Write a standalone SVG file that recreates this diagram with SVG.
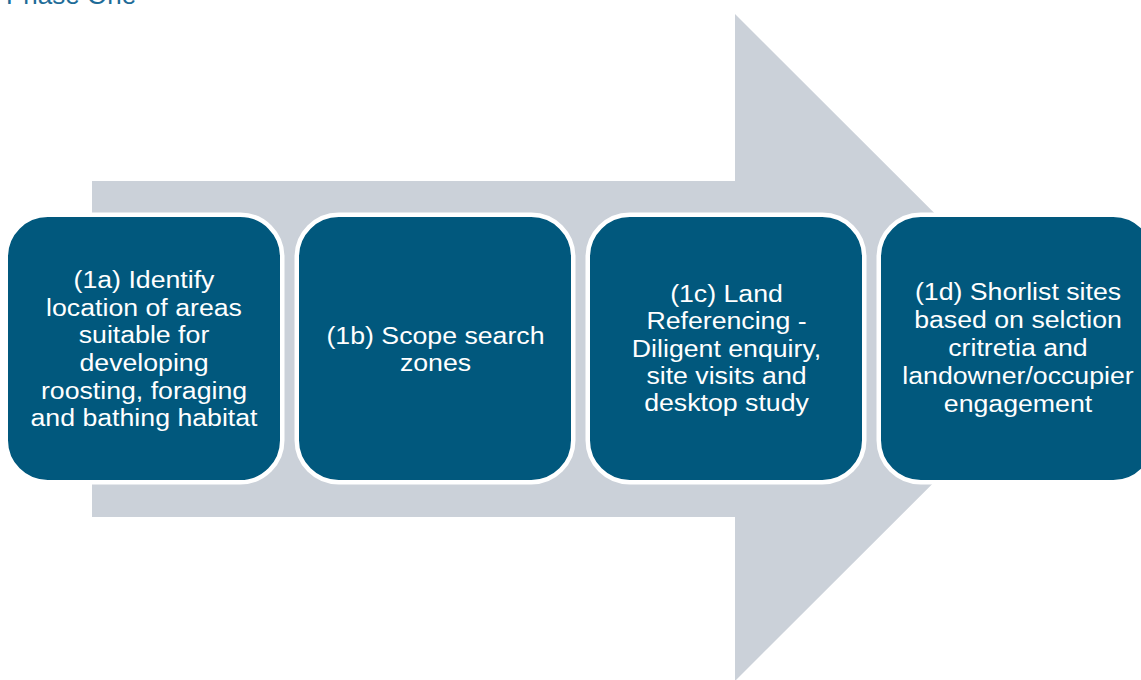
<svg xmlns="http://www.w3.org/2000/svg" width="1141" height="680" viewBox="0 0 1141 680">
<style>
.box{fill:#01587D;stroke:#ffffff;stroke-width:4.5}
.lbl{font-family:"Liberation Sans",Arial,sans-serif;font-size:24.5px;fill:#ffffff;text-anchor:middle}
.title{font-family:"Liberation Sans",Arial,sans-serif;font-size:26px;fill:#1E6C98}
</style>
<rect width="1141" height="680" fill="#ffffff"/>
<text class="title" x="6" y="4">Phase One</text>
<g id="connectors">
<path d="M92,181 H735 V14 L1069,347.5 L735,681 V517 H92 Z" fill="#CBD1D9"/>
</g>
<g id="node-1a">
<rect class="box" x="5.75" y="214.75" width="276.5" height="267.5" rx="42"/>
<text class="lbl" transform="translate(144 0) scale(1.09 1)"><tspan x="0" y="288">(1a) Identify</tspan><tspan x="0" y="315.7">location of areas</tspan><tspan x="0" y="343.4">suitable for</tspan><tspan x="0" y="371.1">developing</tspan><tspan x="0" y="398.8">roosting, foraging</tspan><tspan x="0" y="426.5">and bathing habitat</tspan></text>
</g>
<g id="node-1b">
<rect class="box" x="296.75" y="214.75" width="276.5" height="267.5" rx="42"/>
<text class="lbl" transform="translate(435.5 0) scale(1.09 1)"><tspan x="0" y="344">(1b) Scope search</tspan><tspan x="0" y="371.5">zones</tspan></text>
</g>
<g id="node-1c">
<rect class="box" x="587.75" y="214.75" width="276.5" height="267.5" rx="42"/>
<text class="lbl" transform="translate(726.5 0) scale(1.09 1)"><tspan x="0" y="302">(1c) Land</tspan><tspan x="0" y="329.3">Referencing -</tspan><tspan x="0" y="356.6">Diligent enquiry,</tspan><tspan x="0" y="383.9">site visits and</tspan><tspan x="0" y="411.2">desktop study</tspan></text>
</g>
<g id="node-1d">
<rect class="box" x="878.75" y="214.75" width="276.5" height="267.5" rx="42"/>
<text class="lbl" transform="translate(1018 0) scale(1.09 1)"><tspan x="0" y="300">(1d) Shorlist sites</tspan><tspan x="0" y="328">based on selction</tspan><tspan x="0" y="356">critretia and</tspan><tspan x="0" y="384">landowner/occupier</tspan><tspan x="0" y="412">engagement</tspan></text>
</g>
</svg>
